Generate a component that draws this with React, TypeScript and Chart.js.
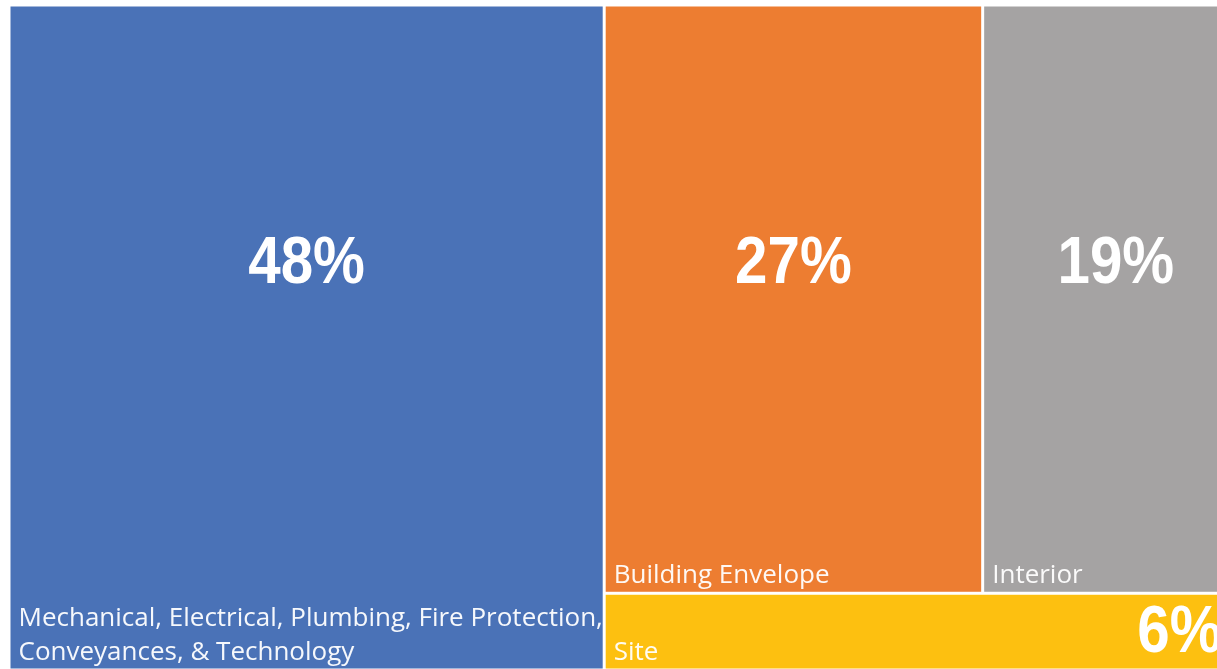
import React, { useEffect, useRef } from "react";
import { Chart, registerables } from "chart.js";

Chart.register(...registerables);

// ---- data ----
const categories: (string | string[])[] = [
  ["Mechanical, Electrical, Plumbing, Fire Protection,", "Conveyances, & Technology"],
  "Building Envelope",
  "Interior",
  "Site",
];
const shares = [48, 27, 19, 6];
const percentLabels = ["48%", "27%", "19%", "6%"];
const colors = ["#4A72B7", "#ED7D31", "#A5A3A3", "#FDC010"];
// nesting of the tiles (slice-and-dice, alternating direction, first split horizontal)
type Node = number | Node[];
const grouping: Node = [0, [[1, 2], 3]];

type Rect = { i: number; x0: number; y0: number; x1: number; y1: number };

function sumNode(n: Node): number {
  return typeof n === "number" ? shares[n] : n.reduce((s, c) => s + sumNode(c), 0);
}

function layout(n: Node, x0: number, y0: number, x1: number, y1: number, horiz: boolean, out: Rect[]) {
  if (typeof n === "number") {
    out.push({ i: n, x0, y0, x1, y1 });
    return;
  }
  const total = sumNode(n);
  let acc = 0;
  n.forEach((c) => {
    const s = sumNode(c);
    if (horiz) {
      const a = x0 + ((x1 - x0) * acc) / total;
      const b = x0 + ((x1 - x0) * (acc + s)) / total;
      layout(c, a, y0, b, y1, !horiz, out);
    } else {
      const a = y0 + ((y1 - y0) * acc) / total;
      const b = y0 + ((y1 - y0) * (acc + s)) / total;
      layout(c, x0, a, x1, b, !horiz, out);
    }
    acc += s;
  });
}

const tiles: Rect[] = [];
layout(grouping, 0, 0, 100, 100, true, tiles);

const BIG_FONT = 'bold 67px "Liberation Sans", Arial, sans-serif';
const BIG_SQUEEZE = 0.87;
const LABEL_FONT = '26px "Open Sans", "Liberation Sans", sans-serif';

function drawSqueezed(ctx: CanvasRenderingContext2D, text: string, x: number, y: number, align: "center" | "right") {
  ctx.save();
  ctx.translate(x, y);
  ctx.scale(BIG_SQUEEZE, 1);
  ctx.textAlign = align;
  ctx.fillText(text, 0, 0);
  ctx.restore();
}

const treemapPlugin = {
  id: "treemapTiles",
  afterDatasetsDraw(chart: any) {
    const { ctx, scales, chartArea } = chart;
    const xs = scales.x;
    const ys = scales.y;
    const gap = 1.5;
    ctx.save();
    tiles.forEach((t) => {
      const l = xs.getPixelForValue(t.x0) + gap;
      const r = xs.getPixelForValue(t.x1) - gap;
      const top = ys.getPixelForValue(t.y0) + gap;
      const bot = ys.getPixelForValue(t.y1) - gap;
      ctx.fillStyle = colors[t.i];
      ctx.fillRect(l, top, r - l, bot - top);

      // category label, bottom-left
      const lab = categories[t.i];
      const lines = Array.isArray(lab) ? lab : [lab];
      ctx.font = LABEL_FONT;
      ctx.fillStyle = "rgba(255,255,255,0.95)";
      ctx.textAlign = "left";
      ctx.textBaseline = "alphabetic";
      const lh = 34;
      lines.forEach((ln, k) => {
        const y = bot - 9 - (lines.length - 1 - k) * lh;
        ctx.fillText(ln, l + 8, y);
      });

      // percentage
      ctx.font = BIG_FONT;
      ctx.fillStyle = "#ffffff";
      ctx.textBaseline = "middle";
      const h = bot - top;
      if (h > 150) {
        const cy = chartArea.top + (chartArea.bottom - chartArea.top) * 0.39;
        drawSqueezed(ctx, percentLabels[t.i], (l + r) / 2, cy, "center");
      } else {
        drawSqueezed(ctx, percentLabels[t.i], r - 26, (top + bot) / 2 + 2, "right");
      }
    });
    ctx.restore();
  },
};

export default function App() {
  const ref = useRef<HTMLCanvasElement | null>(null);
  useEffect(() => {
    if (!ref.current) return;
    const chart = new Chart(ref.current, {
      type: "scatter",
      data: {
        datasets: [
          {
            data: tiles.map((t) => ({ x: (t.x0 + t.x1) / 2, y: (t.y0 + t.y1) / 2 })),
            pointRadius: 0,
            showLine: false,
          },
        ],
      },
      options: {
        animation: false,
        responsive: false,
        devicePixelRatio: 1,
        layout: { padding: { left: 9, top: 5, right: 11, bottom: 10 } },
        scales: {
          x: { type: "linear", min: 0, max: 100, display: false },
          y: { type: "linear", min: 0, max: 100, reverse: true, display: false },
        },
        plugins: { legend: { display: false }, tooltip: { enabled: false } },
      },
      plugins: [treemapPlugin],
    } as any);
    return () => chart.destroy();
  }, []);
  return (
    <div
      style={{
        position: "fixed",
        left: 0,
        top: 0,
        width: 1217,
        height: 669,
        overflow: "hidden",
        background: "#ffffff",
      }}
    >
      <canvas ref={ref} width={1260} height={680} style={{ display: "block" }} />
    </div>
  );
}
